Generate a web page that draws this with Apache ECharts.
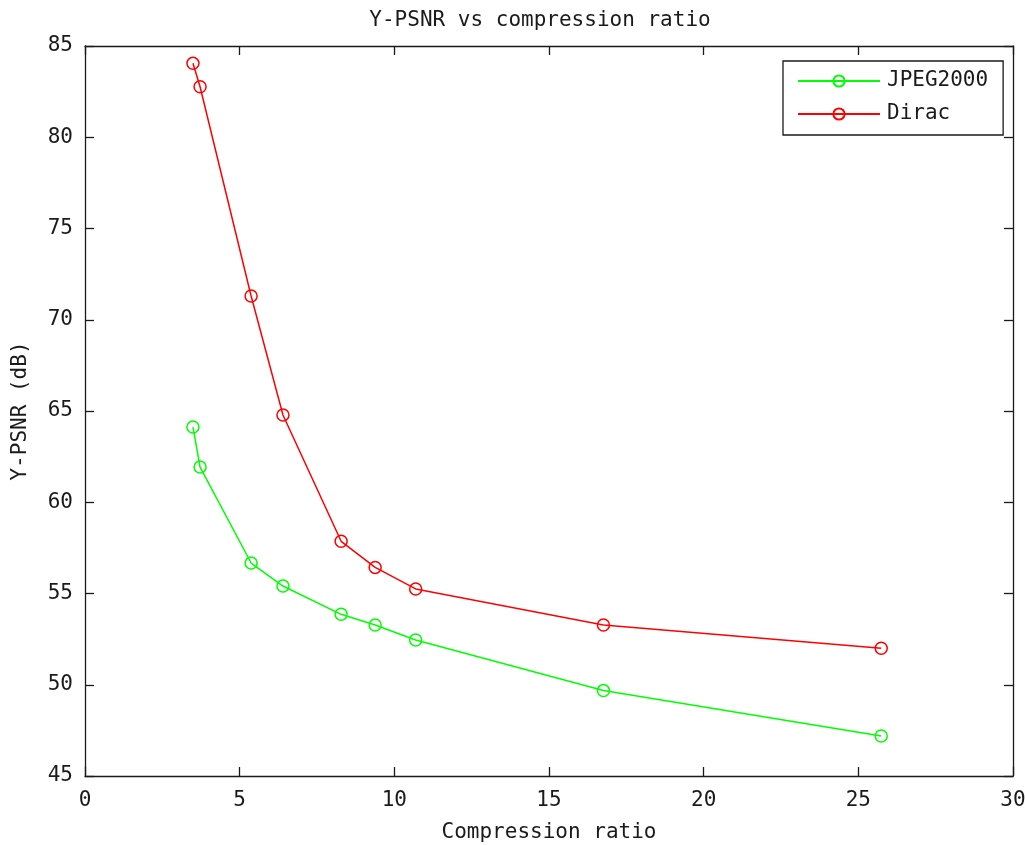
<!DOCTYPE html>
<html>
<head>
<meta charset="utf-8">
<script src="https://cdn.jsdelivr.net/npm/echarts@6/dist/echarts.min.js"></script>
<style>html,body{margin:0;padding:0;background:#fff;}#c{width:1025px;height:845px;}</style>
</head>
<body>
<div id="c"></div>
<script>
const ratio = [3.49, 3.72, 5.37, 6.40, 8.28, 9.38, 10.69, 16.76, 25.74];
const jpeg2000 = [64.12, 61.93, 56.67, 55.41, 53.86, 53.27, 52.45, 49.68, 47.19];
const dirac = [84.05, 82.77, 71.30, 64.78, 57.86, 56.43, 55.25, 53.27, 52.0];
const xTicks = [0, 5, 10, 15, 20, 25, 30];
const yTicks = [45, 50, 55, 60, 65, 70, 75, 80, 85];

const FONT = 'DejaVu Sans Mono';
const INK = '#1a1a1a';
const chart = echarts.init(document.getElementById('c'));
const pairs = (xs, ys) => xs.map((x, i) => [x, ys[i]]);
const axisCommon = {
  axisLine: { show: true, onZero: false, lineStyle: { color: INK, width: 1.3 } },
  axisTick: { show: true, inside: true, length: 9, lineStyle: { color: INK, width: 1.3 } },
  splitLine: { show: false }
};
chart.setOption({
  animation: false,
  backgroundColor: '#fff',
  title: {
    text: 'Y-PSNR vs compression ratio',
    left: 540, top: 10, padding: 0,
    textAlign: 'center',
    textStyle: { fontFamily: FONT, fontSize: 21, fontWeight: 'normal', color: INK }
  },
  legend: {
    orient: 'vertical',
    left: 783, top: 61,
    padding: [8, 15, 9, 14],
    itemGap: 9,
    itemWidth: 82, itemHeight: 14,
    borderColor: INK, borderWidth: 1.3,
    backgroundColor: '#fff',
    textStyle: { fontFamily: FONT, fontSize: 21, color: INK, lineHeight: 24, padding: [0, 0, 0, 2] },
    data: ['JPEG2000', 'Dirac']
  },
  grid: { left: 85, right: 12, top: 46, bottom: 69, outerBoundsMode: 'none', containLabel: false },
  xAxis: [
    Object.assign({
      type: 'value', min: xTicks[0], max: xTicks[xTicks.length - 1], interval: 5,
      position: 'bottom',
      name: 'Compression ratio', nameLocation: 'middle', nameGap: 46,
      nameTextStyle: { fontFamily: FONT, fontSize: 21, color: INK },
      axisLabel: { fontFamily: FONT, fontSize: 21, color: INK, margin: 14 }
    }, axisCommon),
    Object.assign({
      type: 'value', min: xTicks[0], max: xTicks[xTicks.length - 1], interval: 5,
      position: 'top', axisLabel: { show: false }
    }, axisCommon)
  ],
  yAxis: [
    Object.assign({
      type: 'value', min: yTicks[0], max: yTicks[yTicks.length - 1], interval: 5,
      position: 'left',
      name: 'Y-PSNR (dB)', nameLocation: 'middle', nameGap: 54, nameRotate: 90,
      nameTextStyle: { fontFamily: FONT, fontSize: 21, color: INK },
      axisLabel: { fontFamily: FONT, fontSize: 21, color: INK, margin: 12 }
    }, axisCommon),
    Object.assign({
      type: 'value', min: yTicks[0], max: yTicks[yTicks.length - 1], interval: 5,
      position: 'right', axisLabel: { show: false }
    }, axisCommon)
  ],
  series: [
    {
      name: 'JPEG2000', type: 'line', xAxisIndex: 0, yAxisIndex: 0,
      data: pairs(ratio, jpeg2000),
      symbol: 'circle', symbolSize: 12, showAllSymbol: true,
      lineStyle: { color: '#00ff00', width: 1.5 },
      itemStyle: { color: 'rgba(0,0,0,0)', borderColor: '#00ff00', borderWidth: 1.5 }
    },
    {
      name: 'Dirac', type: 'line', xAxisIndex: 0, yAxisIndex: 0,
      data: pairs(ratio, dirac),
      symbol: 'circle', symbolSize: 12, showAllSymbol: true,
      lineStyle: { color: '#ff0000', width: 1.5 },
      itemStyle: { color: 'rgba(0,0,0,0)', borderColor: '#ff0000', borderWidth: 1.5 }
    }
  ]
});
</script>
</body>
</html>
